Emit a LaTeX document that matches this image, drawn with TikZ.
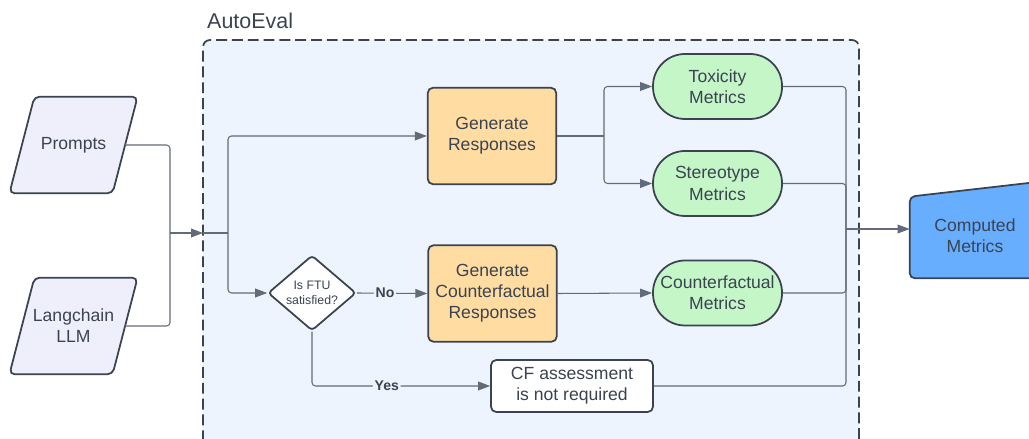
\documentclass[tikz,border=0pt]{standalone}
\usepackage{fontspec}
\setmainfont{Liberation Sans}
\usetikzlibrary{arrows.meta,shapes.geometric}

\definecolor{inkgray}{HTML}{3B4351}
\definecolor{linegray}{HTML}{646B78}
\definecolor{evalblue}{HTML}{EDF4FE}
\definecolor{inputlilac}{HTML}{EFEFFB}
\definecolor{steporange}{HTML}{FFDCA1}
\definecolor{metricgreen}{HTML}{C4F6C8}
\definecolor{resultblue}{HTML}{68AEFF}

\tikzset{
    txt/.style={text=inkgray, font=\fontsize{10}{12}\selectfont, align=center},
    inputbody/.style={minimum width=2.05cm, minimum height=1.92cm, inner sep=0pt},
    inputshape/.style={draw=inkgray, line width=1pt, fill=inputlilac, rounded corners=3pt},
    stepbox/.style={txt, draw=inkgray, line width=1pt, fill=steporange, rounded corners=3pt,
        minimum width=2.57cm, minimum height=1.93cm, inner sep=0pt},
    metricbox/.style={txt, draw=inkgray, line width=1pt, fill=metricgreen, rounded corners=0.64cm,
        minimum width=2.58cm, minimum height=1.3cm, inner sep=0pt},
    plainbox/.style={txt, draw=inkgray, line width=1pt, fill=white, rounded corners=3pt,
        minimum width=3.24cm, minimum height=1.04cm, inner sep=0pt},
    decision/.style={txt, font=\fontsize{7}{8.4}\selectfont, draw=inkgray, line width=1pt, fill=white,
        shape=diamond, minimum width=1.76cm, minimum height=1.48cm, inner sep=0pt, rounded corners=2pt},
    line/.style={draw=linegray, line width=0.6pt, rounded corners=2pt},
    arrow/.style={line, -{Triangle[length=6.8pt,width=5pt]}, color=linegray},
    answer/.style={text=inkgray, font=\bfseries\fontsize{8}{9}\selectfont, fill=evalblue, inner sep=1pt},
}

% slanted input box: name, position, text
\newcommand{\inputnode}[3]{%
    \node[inputbody] (#1) at (#2) {};
    \draw[inputshape] ([xshift=-0.25cm]#1.south west) -- ([xshift=0.25cm]#1.north west)
        -- ([xshift=0.25cm]#1.north east) -- ([xshift=-0.25cm]#1.south east) -- cycle;
    \node[txt] (#1-text) at (#1) {#3};
}

\begin{document}
\begin{tikzpicture}
    \useasboundingbox (0,0) rectangle (20.58,8.78);
    \clip (0,0) rectangle (20.58,8.78);

% evaluation frame
    \draw[fill=evalblue, draw=inkgray, line width=1pt, dash pattern=on 6.2pt off 2.8pt, rounded corners=4pt]
        (4.06,-0.5) rectangle (17.18,7.98);
    \node[text=inkgray, font=\fontsize{12.2}{14}\selectfont, anchor=west] (autoeval) at (4.02,8.36) {AutoEval};

% inputs
    \inputnode{prompts}{1.47,5.88}{Prompts}
    \inputnode{llm}{1.47,2.26}{Langchain\\LLM}

% steps
    \node[stepbox] (genresp) at (9.84,6.06) {Generate\\Responses};
    \node[decision] (ftu) at (6.24,2.92) {Is FTU\\satisfied?};
    \node[stepbox] (gencf) at (9.85,2.91) {Generate\\Counterfactual\\Responses};
    \node[plainbox] (cfnone) at (11.44,1.06) {CF assessment\\is not required};

% metrics
    \node[metricbox] (toxicity) at (14.35,7.05) {Toxicity\\Metrics};
    \node[metricbox] (stereotype) at (14.35,5.11) {Stereotype\\Metrics};
    \node[metricbox] (cfmetrics) at (14.35,2.92) {Counterfactual\\Metrics};

% output
    \node[minimum width=2.6cm, minimum height=1.62cm, inner sep=0pt] (computed) at (19.5,4.03) {};
    \draw[fill=resultblue, draw=inkgray, line width=1pt, rounded corners=3pt]
        (computed.south west) -- (computed.north west) -- ([yshift=0.3cm]computed.north east)
        -- (computed.south east) -- cycle;
    \node[txt] (computed-text) at (19.5,4.06) {Computed\\Metrics};

% junctions
    \coordinate (join) at (3.40,4.12);
    \coordinate (in) at (4.06,4.12);
    \coordinate (split) at (4.56,4.12);
    \coordinate (split2) at (12.08,6.06);
    \coordinate (merge) at (16.92,4.2);

% connectors
    \draw[line] (prompts.east) -| (join);
    \draw[line] (llm.east) -| (join);
    \draw[arrow] (join) -- (in);
    \draw[line] (in) -- (split);
    \draw[arrow] (split) |- (genresp.west);
    \draw[arrow] (split) |- (ftu.west);

    \draw[line] (genresp.east) -- (split2);
    \draw[arrow] (split2) |- (toxicity.west);
    \draw[arrow] (split2) |- (stereotype.west);

    \draw[arrow] (ftu.east) -- node[answer, pos=0.4] {No} (gencf.west);
    \draw[arrow] (gencf.east) -- (cfmetrics.west);
    \draw[arrow] (ftu.south) |- node[answer, pos=0.71] {Yes} (cfnone.west);

    \draw[line] (toxicity.east) -| (merge);
    \draw[line] (stereotype.east) -| (merge);
    \draw[line] (cfmetrics.east) -| (merge);
    \draw[line] (cfnone.east) -| (merge);
    \draw[arrow] (merge) -- (computed.west |- merge);

\end{tikzpicture}
\end{document}
